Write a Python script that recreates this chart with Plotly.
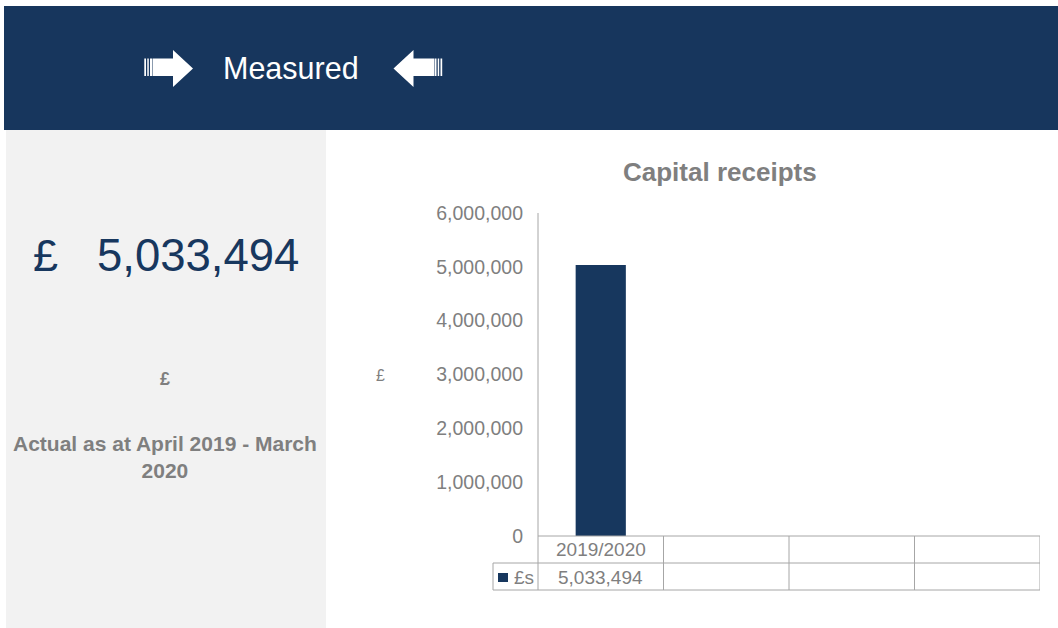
import plotly.graph_objects as go

# ---- data ----
categories = ["2019/2020", "", "", ""]
values = [5033494, None, None, None]
series_name = "£s"
y_ticks = [0, 1000000, 2000000, 3000000, 4000000, 5000000, 6000000]
chart_title = "Capital receipts"
header_text = "Measured"
period_text = "Actual as at April 2019 - March<br>2020"
unit_text = "£"

W, H = 1058, 628
DARK = "#17375E"
GREY_TXT = "#7F7F7F"
LINE = "#A6A6A6"
FONT = "Liberation Sans, Arial, sans-serif"


def px(x):
    return x / W


def py(y):
    return 1 - y / H


total = sum(v for v in values if v is not None)
idx = list(range(len(categories)))

fig = go.Figure()
fig.add_trace(go.Bar(
    x=idx, y=values, name=series_name, width=0.4,
    marker=dict(color=DARK, line=dict(width=0)),
    hoverinfo="y", showlegend=False,
))

shapes = []
# header band and left panel
shapes.append(dict(type="rect", xref="paper", yref="paper", x0=px(4), x1=px(1058), y0=py(6), y1=py(130),
                   fillcolor="#17365D", line=dict(width=0), layer="below"))
shapes.append(dict(type="rect", xref="paper", yref="paper", x0=px(6), x1=px(326), y0=py(130), y1=py(628),
                   fillcolor="#F2F2F2", line=dict(width=0), layer="below"))


# arrows
def arrow_path(mirror=False, c=586.5):
    head = [(173, 50), (193, 68.5), (173, 87), (173, 76), (152, 76), (152, 58.5), (173, 58.5)]
    stripes = [[(144.3, 58.5), (146, 58.5), (146, 76), (144.3, 76)],
               [(147.3, 58.5), (148.8, 58.5), (148.8, 76), (147.3, 76)],
               [(150, 58.5), (152.5, 58.5), (152.5, 76), (150, 76)]]
    polys = [head] + stripes
    out = []
    for poly in polys:
        pts = [((c - x) if mirror else x, y) for x, y in poly]
        out.append("M " + " L ".join(f"{px(x):.5f},{py(y):.5f}" for x, y in pts) + " Z")
    return " ".join(out)


for m in (False, True):
    shapes.append(dict(type="path", xref="paper", yref="paper", path=arrow_path(m),
                       fillcolor="white", line=dict(width=0)))

# data table grid
n = len(categories)
shapes.append(dict(type="line", xref="paper", yref="paper", x0=px(538), x1=px(538), y0=py(213), y1=py(590),
                   line=dict(color=LINE, width=1)))
for i in range(1, n + 1):
    shapes.append(dict(type="line", xref="x", yref="paper", x0=i - 0.5, x1=i - 0.5, y0=py(536), y1=py(590),
                       line=dict(color=LINE, width=1)))
shapes.append(dict(type="line", xref="paper", yref="paper", x0=px(538), x1=px(1040), y0=py(536), y1=py(536),
                   line=dict(color=LINE, width=1)))
for yy in (563, 590):
    shapes.append(dict(type="line", xref="paper", yref="paper", x0=px(493), x1=px(1040), y0=py(yy), y1=py(yy),
                       line=dict(color=LINE, width=1)))
shapes.append(dict(type="line", xref="paper", yref="paper", x0=px(493), x1=px(493), y0=py(563), y1=py(590),
                   line=dict(color=LINE, width=1)))
# legend key in table
shapes.append(dict(type="rect", xref="paper", yref="paper", x0=px(498), x1=px(508), y0=py(573), y1=py(582),
                   fillcolor=DARK, line=dict(width=0)))

annotations = []


def ann(text, x, y, size, color, bold=False, xref="paper", xanchor="center"):
    if bold:
        text = f"<b>{text}</b>"
    annotations.append(dict(text=text, x=x, y=y, xref=xref, yref="paper", showarrow=False,
                            xanchor=xanchor, yanchor="middle", font=dict(family=FONT, size=size, color=color)))


ann(header_text, px(291), py(68), 30.5, "white")
ann("£", px(45), py(255), 45, DARK)
ann(f"{total:,}", px(198), py(255), 45.5, DARK)
ann(unit_text, px(165), py(379), 18, GREY_TXT, bold=True)
ann(period_text, px(165), py(457), 21, GREY_TXT, bold=True)
ann(chart_title, px(720), py(172), 26, GREY_TXT, bold=True)
ann(unit_text, px(380), py(375), 16, GREY_TXT)
for i, (c, v) in enumerate(zip(categories, values)):
    if c:
        ann(c, i, py(549.5), 19, GREY_TXT, xref="x")
    if v is not None:
        ann(f"{v:,}", i, py(577), 19, GREY_TXT, xref="x")
ann(series_name, px(524), py(577), 19, GREY_TXT)

fig.update_layout(
    width=W, height=H,
    margin=dict(l=0, r=0, t=0, b=0, pad=0, autoexpand=False),
    paper_bgcolor="white", plot_bgcolor="white",
    showlegend=False,
    shapes=shapes, annotations=annotations,
    font=dict(family=FONT),
    xaxis=dict(domain=[px(538), px(1040)], range=[-0.5, n - 0.5], showticklabels=False, automargin=False,
               showgrid=False, zeroline=False, showline=False, ticks="", fixedrange=True),
    yaxis=dict(domain=[py(536), py(213)], range=[0, 6000000], tickvals=y_ticks, tickformat=",",
               showgrid=False, zeroline=False, showline=False, ticks="", automargin=False,
               ticklabelstandoff=14, tickfont=dict(family=FONT, size=19.5, color=GREY_TXT)),
)

fig.write_html("out.html", config={"displayModeBar": False},
               post_script="document.body.style.margin='0';")
